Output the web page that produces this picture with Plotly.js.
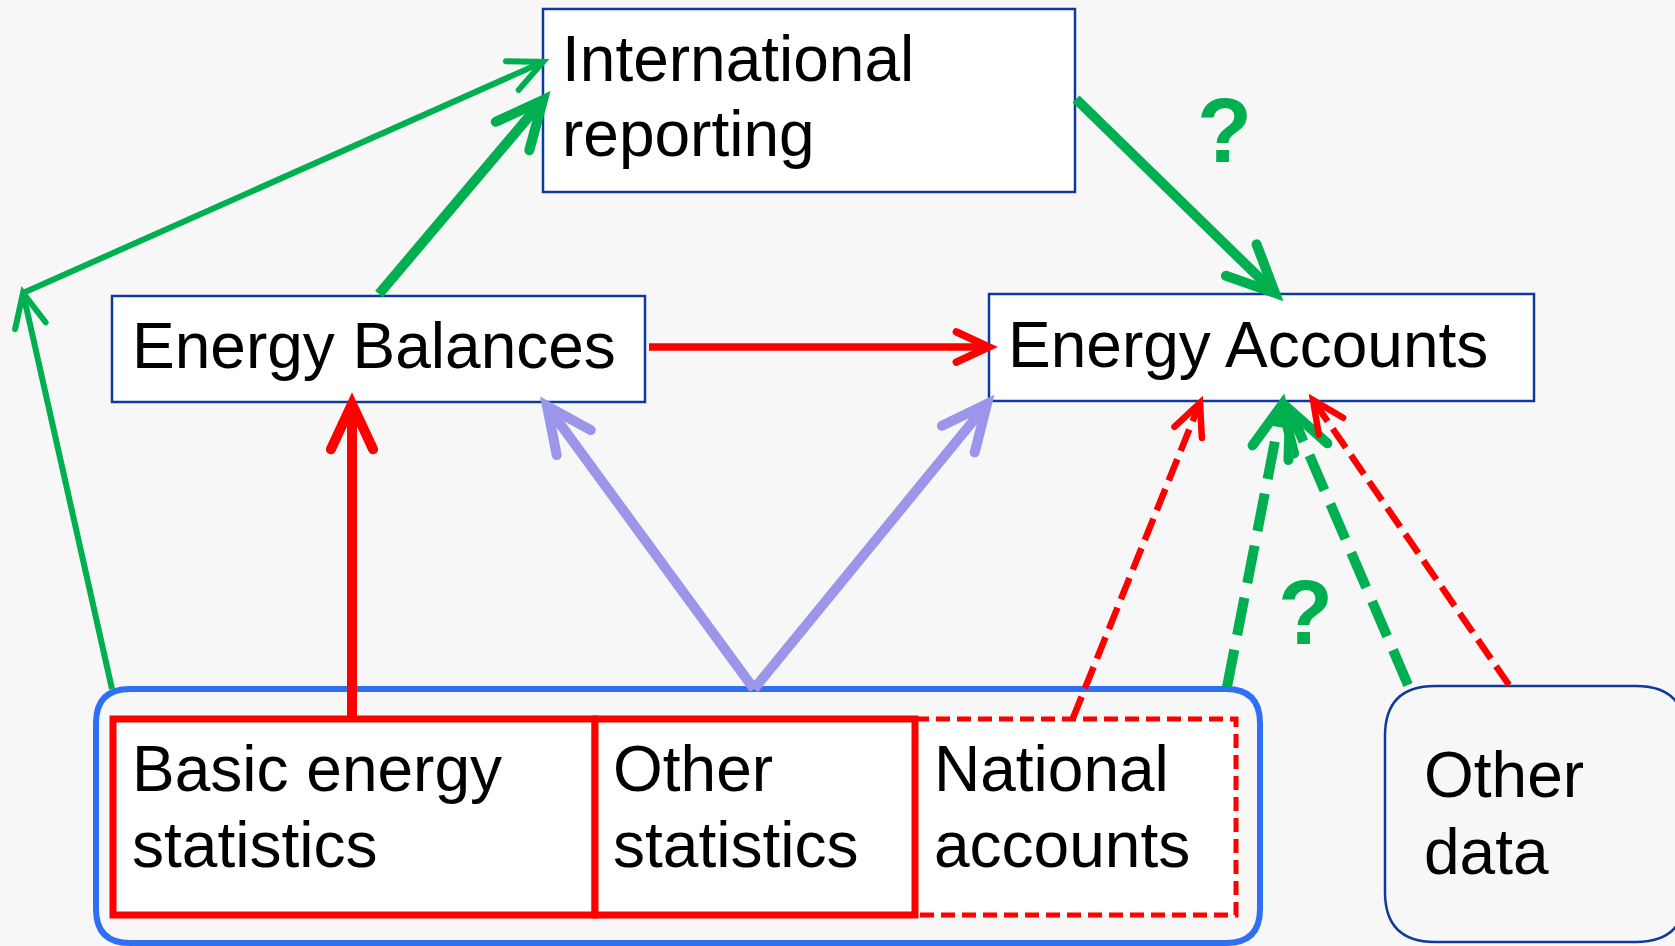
<!DOCTYPE html>
<html><head><meta charset="utf-8">
<script src="https://cdn.plot.ly/plotly-3.0.1.min.js"></script>
<style>html,body{margin:0;padding:0;background:#f7f7f7;overflow:hidden}</style>
</head><body><div id="chart" style="width:1675px;height:946px"></div>
<script>
// ---- Diagram content (text) ----
const intlLines = ['International', 'reporting'];
const balancesLines = ['Energy Balances'];
const accountsLines = ['Energy Accounts'];
const basicLines = ['Basic energy', 'statistics'];
const otherStatsLines = ['Other', 'statistics'];
const nationalLines = ['National', 'accounts'];
const otherDataLines = ['Other', 'data'];
const questionMarks = ['?', '?'];

// ---- Node geometry (diagram coordinates, y downward) ----
const nodeX0 = [543, 112, 989];
const nodeX1 = [1075, 645, 1534];
const nodeY0 = [9, 296, 294];
const nodeY1 = [192, 402, 401];
const sourceX = [113, 595, 915, 1236];   // basic | other stats | national
const sourceY = [719, 915];
const groupBox = [96, 689, 1260, 943];
const otherDataBox = [1385, 686, 1686, 942];

// ---- Arrow links ----
const linkFromX = [112, 23, 379, 1076, 649, 352, 754, 754, 1073, 1227, 1408, 1509];
const linkFromY = [689, 293, 294, 99, 347, 719, 689, 689, 718, 687, 685, 685];
const linkToX   = [23, 543, 543, 1275, 989, 352, 547, 987, 1200, 1282, 1290, 1313];
const linkToY   = [293, 62, 100, 293, 347, 404, 406, 404, 403, 405, 410, 400];
const linkKind  = ['gThin','gThin','gThick','gThick','rThin','rThick','pThick','pThick','rDash','gDash','gDash','rDash'];

const GREEN = '#00b050', RED = '#ff0000', PURPLE = '#9b96ea', BLUE = '#2f6ff3', NAVY = '#0d3a9c';
const kindStyle = {
  gThin:  {c: GREEN, w: 6, dash: 'solid', head: 37},
  gThick: {c: GREEN, w: 10, dash: 'solid', head: 52},
  rThin:  {c: RED, w: 7.5, dash: 'solid', head: 36},
  rThick: {c: RED, w: 10, dash: 'solid', head: 50},
  pThick: {c: PURPLE, w: 10, dash: 'solid', head: 50},
  rDash:  {c: RED, w: 6.5, dash: '23px,9px', head: 35},
  gDash:  {c: GREEN, w: 10, dash: '38px,15px', head: 50}
};

const shapes = [];
const headIdx = [];
function rrect(x0, y0, x1, y1, r) {
  return `M${x0+r},${y0} L${x1-r},${y0} Q${x1},${y0} ${x1},${y0+r} L${x1},${y1-r} Q${x1},${y1} ${x1-r},${y1} L${x0+r},${y1} Q${x0},${y1} ${x0},${y1-r} L${x0},${y0+r} Q${x0},${y0} ${x0+r},${y0} Z`;
}
// group rounded box
shapes.push({type: 'path', xref: 'x', yref: 'y', path: rrect(groupBox[0], groupBox[1], groupBox[2], groupBox[3], 34),
  line: {color: BLUE, width: 6}, fillcolor: 'rgba(0,0,0,0)'});
// other data rounded box
shapes.push({type: 'path', xref: 'x', yref: 'y', path: rrect(otherDataBox[0], otherDataBox[1], otherDataBox[2], otherDataBox[3], 50),
  line: {color: NAVY, width: 2.5}, fillcolor: 'rgba(0,0,0,0)'});
// top nodes
for (let i = 0; i < nodeX0.length; i++) {
  shapes.push({type: 'rect', xref: 'x', yref: 'y', x0: nodeX0[i], x1: nodeX1[i], y0: nodeY0[i], y1: nodeY1[i],
    line: {color: NAVY, width: 2.5}, fillcolor: '#ffffff'});
}
// source boxes
shapes.push({type: 'rect', xref: 'x', yref: 'y', x0: sourceX[2], x1: sourceX[3], y0: sourceY[0], y1: sourceY[1],
  line: {color: RED, width: 5, dash: '14px,7px'}, fillcolor: '#ffffff'});
shapes.push({type: 'rect', xref: 'x', yref: 'y', x0: sourceX[0], x1: sourceX[1], y0: sourceY[0], y1: sourceY[1],
  line: {color: RED, width: 7}, fillcolor: '#ffffff'});
shapes.push({type: 'rect', xref: 'x', yref: 'y', x0: sourceX[1], x1: sourceX[2], y0: sourceY[0], y1: sourceY[1],
  line: {color: RED, width: 7}, fillcolor: '#ffffff'});

// arrows
const ang = 25 * Math.PI / 180;
for (let i = 0; i < linkFromX.length; i++) {
  const s = kindStyle[linkKind[i]];
  const fx = linkFromX[i], fy = linkFromY[i], tx = linkToX[i], ty = linkToY[i];
  const dx = fx - tx, dy = fy - ty, L = Math.hypot(dx, dy);
  const ux = dx / L, uy = dy / L;
  shapes.push({type: 'line', xref: 'x', yref: 'y', x0: fx, y0: fy, x1: tx + ux * 4, y1: ty + uy * 4,
    line: {color: s.c, width: s.w, dash: s.dash}});
  const c = Math.cos(ang), sn = Math.sin(ang);
  const a1x = tx + s.head * (ux * c - uy * sn), a1y = ty + s.head * (ux * sn + uy * c);
  const a2x = tx + s.head * (ux * c + uy * sn), a2y = ty + s.head * (-ux * sn + uy * c);
  headIdx.push(shapes.length);
  shapes.push({type: 'path', xref: 'x', yref: 'y', path: `M${a1x},${a1y} L${tx},${ty} L${a2x},${a2y}`,
    line: {color: s.c, width: s.w}, fillcolor: 'rgba(0,0,0,0)'});
}

// text annotations
const annotations = [];
const FONT = 'Liberation Sans, Arial, sans-serif';
function addLines(lines, x, ys) {
  lines.forEach((t, k) => annotations.push({x: x, y: ys[k], xref: 'x', yref: 'y', text: t, showarrow: false,
    xanchor: 'left', yanchor: 'middle', font: {family: FONT, size: 64, color: '#000000'}}));
}
addLines(intlLines, 560, [59, 134]);
addLines(balancesLines, 130, [346]);
addLines(accountsLines, 1006, [345]);
addLines(basicLines, 130, [769, 845]);
addLines(otherStatsLines, 611, [769, 845]);
addLines(nationalLines, 932, [769, 845]);
addLines(otherDataLines, 1422, [775, 852]);
const qX = [1224, 1305], qY = [131, 613];
questionMarks.forEach((t, k) => annotations.push({x: qX[k], y: qY[k], xref: 'x', yref: 'y', text: '<b>' + t + '</b>',
  showarrow: false, xanchor: 'center', yanchor: 'middle', font: {family: FONT, size: 90, color: GREEN}}));

const layout = {
  width: 1675, height: 946, margin: {l: 0, r: 0, t: 0, b: 0},
  paper_bgcolor: '#f7f7f7', plot_bgcolor: '#f7f7f7', showlegend: false,
  xaxis: {range: [0, 1675], visible: false, fixedrange: true},
  yaxis: {range: [946, 0], visible: false, fixedrange: true},
  shapes: shapes, annotations: annotations
};
Plotly.newPlot('chart', [], layout, {staticPlot: true}).then(gd => {
  gd.querySelectorAll('.shapelayer path').forEach(p => {
    const idx = +p.getAttribute('data-index');
    if (headIdx.indexOf(idx) >= 0) p.style.strokeLinecap = 'round';
  });
});
</script></body></html>
